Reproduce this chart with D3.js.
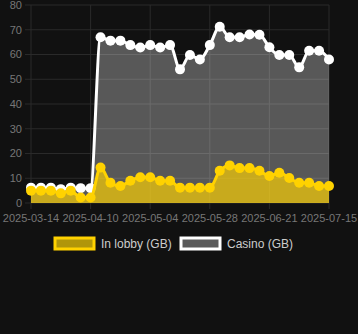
<!DOCTYPE html>
<html>
<head>
<meta charset="utf-8">
<script src="https://cdn.jsdelivr.net/npm/d3@7"></script>
<style>
  body { margin: 0; background: #111111; }
  svg { display: block; font-family: "Liberation Sans", Arial, sans-serif; }
</style>
</head>
<body>
<div id="chart"></div>
<script>
const dates = ["2025-03-14","2025-03-18","2025-03-22","2025-03-26","2025-03-31","2025-04-05",
  "2025-04-10","2025-04-14","2025-04-18","2025-04-22","2025-04-26","2025-04-30",
  "2025-05-04","2025-05-08","2025-05-12","2025-05-16","2025-05-20","2025-05-24",
  "2025-05-28","2025-06-01","2025-06-05","2025-06-09","2025-06-13","2025-06-17",
  "2025-06-21","2025-06-25","2025-06-29","2025-07-03","2025-07-07","2025-07-11","2025-07-15"];
const lobby = [5, 5, 5, 3.9, 5, 2.2, 2.2, 14.3, 8.2, 6.9, 9, 10.4, 10.4, 9, 9, 6.2,
  6.2, 6.2, 6.2, 13, 15.2, 14.1, 14.1, 13, 10.9, 12.2, 10.1, 8.2, 8.2, 6.9, 6.9];
const casino = [6.2, 6.2, 6.2, 5.6, 6.2, 6, 6, 67, 65.6, 65.6, 63.8, 62.8, 63.8, 62.8, 63.8, 54,
  59.8, 58, 63.8, 71.2, 67, 67, 68.1, 68, 62.9, 59.8, 59.8, 54.8, 61.5, 61.5, 58];
const yTicks = [0, 10, 20, 30, 40, 50, 60, 70, 80];
const xTickEvery = 6;

const width = 358, height = 334;
const svg = d3.select("#chart").append("svg")
  .attr("width", width).attr("height", height);

svg.append("rect").attr("width", width).attr("height", height).attr("fill", "#111111");

const x = d3.scalePoint().domain(dates).range([31, 329]);
const y = d3.scaleLinear().domain([0, 80]).range([203, 5]);

// grid
svg.append("g").selectAll("line").data(yTicks).join("line")
  .attr("x1", 25).attr("x2", 329)
  .attr("y1", d => y(d)).attr("y2", d => y(d))
  .attr("stroke", "#2a2a2a").attr("stroke-width", 1);

const xTicks = dates.filter((d, i) => i % xTickEvery === 0);
svg.append("g").selectAll("line").data(xTicks).join("line")
  .attr("x1", d => x(d)).attr("x2", d => x(d))
  .attr("y1", 5).attr("y2", 209)
  .attr("stroke", "#2a2a2a").attr("stroke-width", 1);

// y labels
svg.append("g").selectAll("text").data(yTicks).join("text")
  .attr("x", 22).attr("y", d => y(d)).attr("dy", "0.35em")
  .attr("text-anchor", "end").attr("fill", "#777").attr("font-size", 11)
  .text(d => d);

// x labels
svg.append("g").selectAll("text").data(xTicks).join("text")
  .attr("x", d => x(d)).attr("y", 222)
  .attr("text-anchor", "middle").attr("fill", "#777").attr("font-size", 11)
  .text(d => d);

const curve = d3.curveMonotoneX;

function drawSeries(values, fill, fillOpacity, stroke) {
  const area = d3.area().curve(curve)
    .x((d, i) => x(dates[i])).y0(y(0)).y1(d => y(d));
  const line = d3.line().curve(curve)
    .x((d, i) => x(dates[i])).y(d => y(d));
  svg.append("path").datum(values).attr("d", area)
    .attr("fill", fill).attr("fill-opacity", fillOpacity);
  svg.append("path").datum(values).attr("d", line)
    .attr("fill", "none").attr("stroke", stroke).attr("stroke-width", 3);
  svg.append("g").selectAll("circle").data(values).join("circle")
    .attr("cx", (d, i) => x(dates[i])).attr("cy", d => y(d))
    .attr("r", 5).attr("fill", stroke);
}

drawSeries(casino, "#ffffff", 0.3, "#ffffff");
drawSeries(lobby, "#ffd200", 0.67, "#ffd200");

// legend
const legendItems = [
  { label: "In lobby (GB)", fill: "#b0960a", stroke: "#ffd200", x: 55 },
  { label: "Casino (GB)", fill: "#5a5a5a", stroke: "#ffffff", x: 181 }
];
const lg = svg.append("g").selectAll("g").data(legendItems).join("g")
  .attr("transform", d => `translate(${d.x},238)`);
lg.append("rect").attr("width", 39).attr("height", 11)
  .attr("fill", d => d.fill).attr("stroke", d => d.stroke).attr("stroke-width", 3);
lg.append("text").attr("x", 46).attr("y", 6).attr("dy", "0.35em")
  .attr("fill", "#cccccc").attr("font-size", 12)
  .text(d => d.label);
</script>
</body>
</html>
